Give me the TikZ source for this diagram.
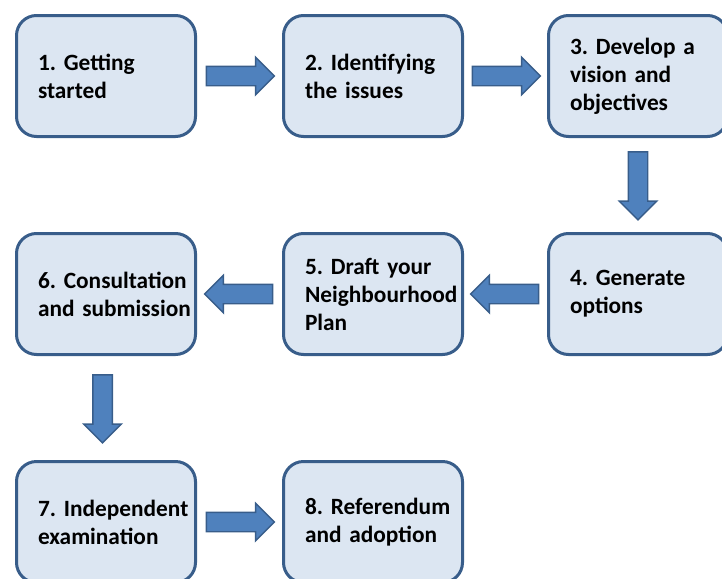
\documentclass[tikz,border=0pt]{standalone}
\usepackage{fontspec}
\setmainfont{Carlito}
\usetikzlibrary{shapes.arrows}
\definecolor{boxfill}{HTML}{DCE6F2}
\definecolor{boxline}{HTML}{385D8A}
\definecolor{arrowfill}{HTML}{4F81BD}
\begin{document}
\frenchspacing\hyphenpenalty=10000\relax
\begin{tikzpicture}[x=0.75pt,y=-0.75pt,
  stage/.style={draw=boxline,fill=boxfill,line width=2.25pt,rounded corners=15pt,
    minimum width=134.25pt,minimum height=90.75pt,text width=102pt,inner xsep=16pt,
    align=left,font=\fontsize{17.5}{21}\selectfont\bfseries},
  flow/.style={single arrow,draw=boxline,fill=arrowfill,line width=1.1pt,
    minimum height=51pt,minimum width=27pt,inner sep=6.75pt,
    single arrow head extend=6.75pt},
  flowright/.style={flow,xshift=-3pt},
  flowleft/.style={flow,shape border rotate=180,xshift=3pt},
  flowdown/.style={flow,shape border rotate=270,yshift=3pt}]
  \useasboundingbox (0,0) rectangle (722,579);
  % first row
  \node[stage] (start) at (106,76) {1. Getting\\started};
  \node[stage] (issues) at (373,76) {2. Identifying\\the issues};
  \node[stage] (vision) at (638,76) {3. Develop a\\vision and\\objectives};
  % second row
  \node[stage] (options) at (638,294) {4. Generate\\options};
  \node[stage] (draft) at (373,294) {5. Draft your\\Neighbourhood\\Plan};
  \node[stage] (consult) at (106,294) {6.~Consultation\\and~submission};
  % third row
  \node[stage] (exam) at (106,522) {7.~Independent\\examination};
  \node[stage] (referendum) at (373,522) {8.~Referendum\\and adoption};
  % block arrows
  \path (start) -- (issues) node[midway,flowright] {};
  \path (issues) -- (vision) node[midway,flowright] {};
  \path (vision) -- (options) node[midway,flowdown] {};
  \path (options) -- (draft) node[midway,flowleft] {};
  \path (draft) -- (consult) node[midway,flowleft] {};
  \path (consult) -- (exam) node[midway,flowdown,xshift=-2.6pt] {};
  \path (exam) -- (referendum) node[midway,flowright] {};
\end{tikzpicture}
\end{document}
